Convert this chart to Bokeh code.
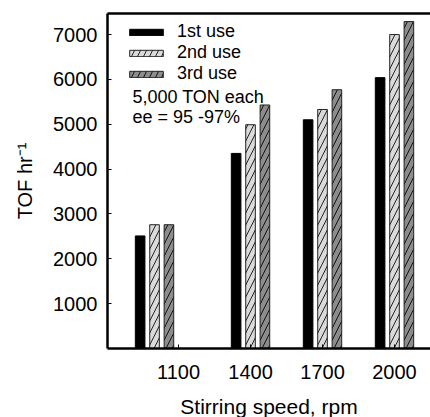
from bokeh.plotting import figure
from bokeh.models import Range1d, FixedTicker, LinearAxis, Legend, LegendItem, Label, ColumnDataSource
from bokeh.transform import dodge
from bokeh.embed import file_html
from bokeh.resources import INLINE

# ---- data ----
speed_ticks = [1100, 1400, 1700, 2000]          # x tick labels (rpm)
group_pos = [1000, 1400, 1700, 2000]            # where each bar group sits on the rpm axis
use1 = [2510, 4350, 5100, 6040]                 # 1st use TOF
use2 = [2760, 4990, 5330, 7000]                 # 2nd use TOF
use3 = [2760, 5430, 5770, 7290]                 # 3rd use TOF
y_ticks = [1000, 2000, 3000, 4000, 5000, 6000, 7000]
series_names = ["1st use", "2nd use", "3rd use"]

FONT = "Liberation Sans"

src = ColumnDataSource(dict(x=group_pos, u1=use1, u2=use2, u3=use3))

p = figure(frame_width=323, frame_height=335,
           x_range=Range1d(804, 2150), y_range=Range1d(0, 7470),
           output_backend="svg", toolbar_location=None,
           min_border_left=107, min_border_top=13, min_border_bottom=69, min_border_right=0,
           background_fill_color="white", border_fill_color="white")
p.grid.visible = False
p.outline_line_color = None

bw = 40
r1 = p.vbar(x=dodge("x", -60, range=p.x_range), top="u1", width=bw, source=src,
            fill_color="black", line_color="black", line_width=1)
r2 = p.vbar(x=dodge("x", 0, range=p.x_range), top="u2", width=bw, source=src,
            fill_color="#dadada", line_color="#222222", line_width=1,
            hatch_pattern="/", hatch_color="#222222", hatch_weight=1, hatch_scale=12)
r3 = p.vbar(x=dodge("x", 60, range=p.x_range), top="u3", width=bw, source=src,
            fill_color="#8c8c8c", line_color="#222222", line_width=1,
            hatch_pattern="/", hatch_color="#111111", hatch_weight=1, hatch_scale=12)

# y axis
ya = p.yaxis[0]
ya.ticker = FixedTicker(ticks=y_ticks)
ya.major_tick_in = 4
ya.major_tick_out = 0
ya.minor_tick_in = 0
ya.minor_tick_out = 0
ya.axis_line_width = 2.5
ya.major_tick_line_width = 1
ya.major_label_text_font = FONT
ya.major_label_text_font_size = "20px"
ya.major_label_text_color = "black"
ya.major_label_standoff = 10
ya.axis_label = "TOF hr\u207b\u00b9"
ya.axis_label_text_font = FONT
ya.axis_label_text_font_size = "20px"
ya.axis_label_text_font_style = "normal"
ya.axis_label_text_color = "black"
ya.axis_label_standoff = 14

# x axis
xa = p.xaxis[0]
xa.ticker = FixedTicker(ticks=speed_ticks)
xa.major_tick_in = 4
xa.major_tick_out = 0
xa.minor_tick_in = 0
xa.minor_tick_out = 0
xa.axis_line_width = 2.5
xa.major_label_text_font = FONT
xa.major_label_text_font_size = "20px"
xa.major_label_text_color = "black"
xa.major_label_standoff = 16
xa.axis_label = "Stirring speed, rpm"
xa.axis_label_text_font = FONT
xa.axis_label_text_font_size = "21px"
xa.axis_label_text_font_style = "normal"
xa.axis_label_text_color = "black"
xa.axis_label_standoff = 13

# top border line
top = LinearAxis(ticker=FixedTicker(ticks=[]), axis_line_width=2.5,
                 major_tick_in=0, major_tick_out=0, minor_tick_in=0, minor_tick_out=0,
                 major_label_standoff=0)
p.add_layout(top, "above")

legend = Legend(items=[LegendItem(label=series_names[0], renderers=[r1]),
                       LegendItem(label=series_names[1], renderers=[r2]),
                       LegendItem(label=series_names[2], renderers=[r3])],
                location=(18, 264), margin=0, padding=0,
                border_line_color=None, background_fill_alpha=0,
                glyph_width=42, glyph_height=8, label_standoff=10,
                spacing=0, label_height=19,
                label_text_font=FONT, label_text_font_size="18px", label_text_color="black")
p.add_layout(legend)

for txt, yv in [("5,000 TON each", 5600), ("ee = 95 -97%", 5170)]:
    p.add_layout(Label(x=908, y=yv, text=txt, text_baseline="middle", text_align="left",
                       text_font=FONT, text_font_size="18px", text_color="black"))

open("out.html", "w").write(file_html(p, INLINE))
